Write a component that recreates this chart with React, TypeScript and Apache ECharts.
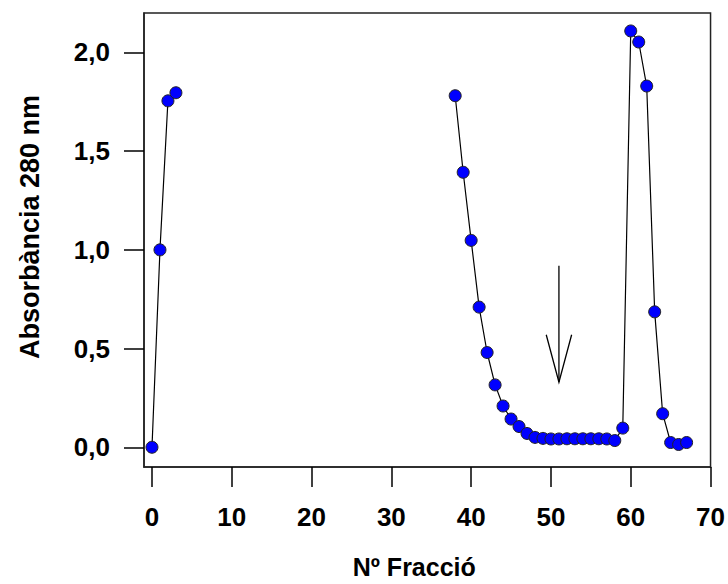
import React, { useEffect, useRef } from "react";
import * as echarts from "echarts";

// Fractions and absorbance (280 nm)
const fractionsA = [0, 1, 2, 3];
const absorbanceA = [0.0, 1.0, 1.755, 1.796];

const fractionsB = [
  38, 39, 40, 41, 42, 43, 44, 45, 46, 47, 48, 49, 50, 51, 52, 53, 54, 55, 56, 57,
  58, 59, 60, 61, 62, 63, 64, 65, 66, 67,
];
const absorbanceB = [
  1.781, 1.393, 1.048, 0.71, 0.48, 0.316, 0.209, 0.143, 0.105, 0.07, 0.05, 0.045,
  0.042, 0.042, 0.043, 0.043, 0.043, 0.043, 0.043, 0.042, 0.034, 0.097, 2.109,
  2.053, 1.83, 0.686, 0.17, 0.024, 0.014, 0.024,
];

const xTicks = [0, 10, 20, 30, 40, 50, 60, 70];
const yTicks = [0, 0.5, 1.0, 1.5, 2.0];

// Arrow annotation: [fraction, top value, tip value]
const arrowData = [[51, 0.92, 0.33]];

const FONT = "'Liberation Sans', Arial, Helvetica, sans-serif";

export default function App() {
  const ref = useRef<HTMLDivElement>(null);

  useEffect(() => {
    if (!ref.current) return;
    const chart = echarts.init(ref.current, null, { renderer: "svg" });

    const pointStyle = {
      type: "line" as const,
      symbol: "circle",
      symbolSize: 12,
      showSymbol: true,
      lineStyle: { color: "#000", width: 1.2 },
      itemStyle: { color: "#0000ff", borderColor: "#222", borderWidth: 1 },
      z: 3,
    };

    chart.setOption({
      animation: false,
      backgroundColor: "#fff",
      grid: {
        left: 144,
        top: 13,
        width: 568,
        height: 454,
        show: true,
        borderColor: "#222",
        borderWidth: 1.5,
        backgroundColor: "transparent",
      },
      xAxis: {
        type: "value",
        min: -1,
        max: 70,
        name: "Nº Fracció",
        nameLocation: "middle",
        nameGap: 87,
        nameTextStyle: {
          fontFamily: FONT,
          fontWeight: "bold",
          fontSize: 25,
          color: "#000",
          padding: [0, 26, 0, 0],
        },
        splitLine: { show: false },
        axisLine: { show: true, onZero: false, lineStyle: { color: "#222", width: 1.5 } },
        axisTick: {
          show: true,
          inside: false,
          length: 20,
          customValues: xTicks,
          lineStyle: { color: "#000", width: 1.5 },
        },
        axisLabel: {
          customValues: xTicks,
          margin: 37,
          fontFamily: FONT,
          fontWeight: "bold",
          fontSize: 26,
          color: "#000",
        },
      },
      yAxis: {
        type: "value",
        min: -0.1,
        max: 2.2,
        name: "Absorbància 280 nm",
        nameLocation: "middle",
        nameGap: 101,
        nameTextStyle: {
          fontFamily: FONT,
          fontWeight: "bold",
          fontSize: 27,
          color: "#000",
          padding: [0, 0, 0, 26],
        },
        splitLine: { show: false },
        axisLine: { show: true, onZero: false, lineStyle: { color: "#222", width: 1.5 } },
        axisTick: {
          show: true,
          inside: false,
          length: 20,
          customValues: yTicks,
          lineStyle: { color: "#000", width: 1.5 },
        },
        axisLabel: {
          customValues: yTicks,
          margin: 34,
          fontFamily: FONT,
          fontWeight: "bold",
          fontSize: 26,
          color: "#000",
          formatter: (v: number) => v.toFixed(1).replace(".", ","),
        },
      },
      series: [
        {
          ...pointStyle,
          name: "A",
          data: fractionsA.map((x, i) => [x, absorbanceA[i]]),
        },
        {
          ...pointStyle,
          name: "B",
          data: fractionsB.map((x, i) => [x, absorbanceB[i]]),
        },
        {
          type: "custom",
          name: "arrow",
          data: arrowData,
          z: 2,
          renderItem: (_params: any, api: any) => {
            const x = api.value(0);
            const top = api.coord([x, api.value(1)]);
            const tip = api.coord([x, api.value(2)]);
            const style = { stroke: "#000", lineWidth: 1.3, fill: "none" };
            return {
              type: "group",
              children: [
                {
                  type: "line",
                  shape: { x1: top[0], y1: top[1], x2: tip[0], y2: tip[1] },
                  style,
                },
                {
                  type: "polyline",
                  shape: {
                    points: [
                      [tip[0] - 12.7, tip[1] - 47.4],
                      [tip[0], tip[1]],
                      [tip[0] + 12.7, tip[1] - 47.4],
                    ],
                  },
                  style,
                },
              ],
            };
          },
        },
      ],
    });

    return () => chart.dispose();
  }, []);

  return (
    <div
      ref={ref}
      style={{ position: "fixed", left: 0, top: 0, width: 728, height: 584 }}
    />
  );
}
